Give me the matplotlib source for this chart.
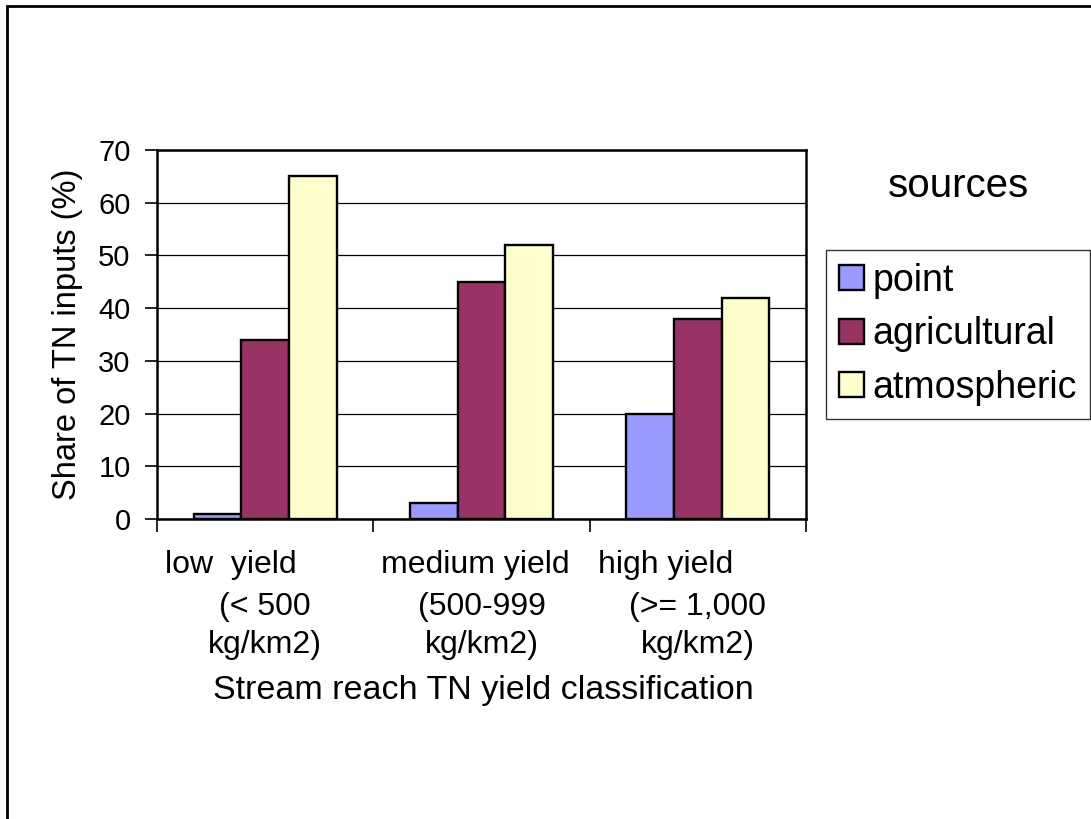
import matplotlib
matplotlib.use("Agg")
import matplotlib.pyplot as plt
import matplotlib.patches as patches
import numpy as np

# data
categories = ["low  yield", "medium yield", "high yield"]
cat_ranges = ["(< 500", "(500-999", "(>= 1,000"]
cat_units = ["kg/km2)", "kg/km2)", "kg/km2)"]
sources = ["point", "agricultural", "atmospheric"]
point = [1, 3, 20]
agricultural = [34, 45, 38]
atmospheric = [65, 52, 42]
colors = ["#9999FF", "#993366", "#FFFFCC"]

plt.rcParams['font.family'] = ['Liberation Sans', 'DejaVu Sans']

W, H = 1091, 819
fig = plt.figure(figsize=(W / 100, H / 100), dpi=100)
fig.patch.set_facecolor("white")

# outer frame (only left and top edges visible in the reference)
frame = patches.Rectangle((7 / W, -0.1), 1.2, 1.1 - 6 / H, transform=fig.transFigure,
                          fill=False, edgecolor="black", linewidth=2, clip_on=False)
fig.patches.append(frame)

ax = fig.add_axes([157 / W, 1 - 519 / H, (806 - 157) / W, (519 - 150) / H])

x = np.arange(len(categories))
width = 0.22
series = [point, agricultural, atmospheric]
for i, (vals, name, col) in enumerate(zip(series, sources, colors)):
    ax.bar(x + (i - 1) * width, vals, width, color=col, edgecolor="black",
           linewidth=1.7, label=name, zorder=3)

ax.set_xlim(-0.5, len(categories) - 0.5)
ax.set_ylim(0, 70)
ax.set_yticks(np.arange(0, 71, 10))
ax.set_xticks(np.arange(len(categories) + 1) - 0.5)
ax.set_xticklabels([])
ax.yaxis.grid(True, color="black", linewidth=0.9, zorder=0)
ax.set_axisbelow(True)
ax.tick_params(axis="both", direction="out", length=9, width=1.2, labelsize=21, pad=10)
for s in ax.spines.values():
    s.set_linewidth(1.8)
    s.set_color("black")

# category labels
for i in range(len(categories)):
    ax.text(i - 0.463, (519 - 565) / 369, categories[i], transform=ax.get_xaxis_transform(),
            ha="left", va="center", fontsize=23)
    ax.text(i, (519 - 607) / 369, cat_ranges[i], transform=ax.get_xaxis_transform(),
            ha="center", va="center", fontsize=23)
    ax.text(i, (519 - 645) / 369, cat_units[i], transform=ax.get_xaxis_transform(),
            ha="center", va="center", fontsize=23)

ax.text(0.503, (519 - 690) / 369, "Stream reach TN yield classification",
        transform=ax.transAxes, ha="center", va="center", fontsize=24.5)
ax.text((68 - 157) / 649, 0.5, "Share of TN inputs (%)", transform=ax.transAxes,
        ha="center", va="center", rotation=90, fontsize=23.5)

fig.text(958 / W, 1 - 186 / H, "sources", ha="center", va="center", fontsize=29)

leg = ax.legend(loc="upper left", bbox_to_anchor=(826 / W, 1 - 250 / H),
                bbox_transform=fig.transFigure, fontsize=27, frameon=True,
                fancybox=False, edgecolor="black", borderaxespad=0, borderpad=0.35,
                handlelength=0.65, handleheight=0.65, handletextpad=0.25,
                labelspacing=0.46)
leg.get_frame().set_linewidth(1.0)
for h in leg.legend_handles:
    h.set_linewidth(1.7)

fig.savefig("out.png", dpi=100)
